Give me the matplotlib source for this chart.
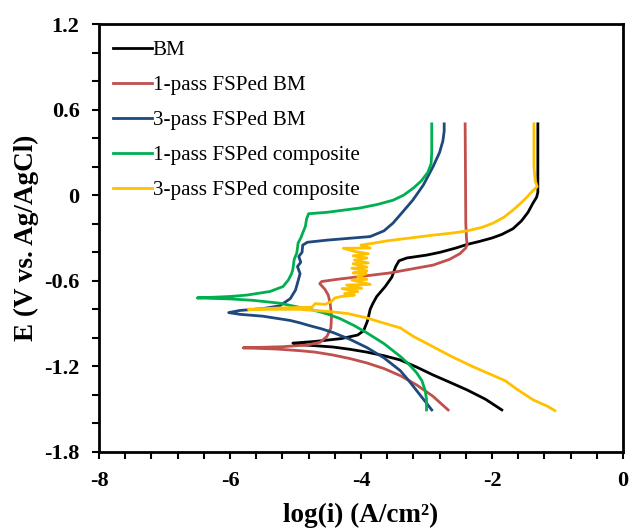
import numpy as np
import matplotlib
matplotlib.use('agg')
import matplotlib.pyplot as plt
from matplotlib.ticker import MultipleLocator

# Tafel curves: log(i) in A/cm2, E in V vs. Ag/AgCl
# BM
bm_logi = [-1.85, -2.10, -2.38, -2.65, -2.90, -3.15, -3.40, -3.65, -3.91,
           -4.17, -4.43, -4.70, -4.93, -5.04,
           -4.70, -4.30, -4.05, -3.96, -3.90, -3.86, -3.82, -3.76, -3.63,
           -3.53, -3.47, -3.42, -3.30, -3.00, -2.79, -2.55, -2.38, -2.20,
           -2.00, -1.85, -1.68, -1.55, -1.45, -1.38, -1.32, -1.30, -1.30]
bm_e = [-1.505, -1.43, -1.365, -1.31, -1.26, -1.205, -1.155, -1.125, -1.10,
        -1.08, -1.064, -1.055, -1.048, -1.037,
        -1.025, -1.005, -0.98, -0.95, -0.88, -0.80, -0.76, -0.71, -0.64,
        -0.575, -0.50, -0.46, -0.44, -0.42, -0.40, -0.37, -0.345, -0.325,
        -0.30, -0.275, -0.235, -0.18, -0.12, -0.06, -0.015, 0.02, 0.5]

# 1-pass FSPed BM
p1_logi = [-2.67, -2.78, -2.90, -3.15, -3.40, -3.65, -3.91, -4.17, -4.43,
           -4.70, -4.93, -5.30, -5.80,
           -5.20, -4.82, -4.62, -4.52, -4.46, -4.45, -4.47, -4.50, -4.55,
           -4.63, -4.60, -4.37, -3.56, -2.90, -2.65, -2.49, -2.40, -2.38,
           -2.39, -2.40, -2.41]
p1_e = [-1.505, -1.46, -1.41, -1.33, -1.265, -1.215, -1.176, -1.145, -1.12,
        -1.10, -1.09, -1.078, -1.07,
        -1.062, -1.05, -1.03, -0.99, -0.93, -0.85, -0.76, -0.70, -0.66,
        -0.62, -0.605, -0.59, -0.545, -0.49, -0.45, -0.41, -0.37, -0.345,
        -0.30, -0.20, 0.5]

# 3-pass FSPed BM
p3_logi = [-2.92, -3.03, -3.15, -3.27, -3.40, -3.65, -3.91, -4.17, -4.43,
           -4.60, -4.78, -4.93, -5.08, -5.50, -5.85, -6.02,
           -5.85, -5.50, -5.24, -5.08, -5.00, -4.96, -4.93, -4.97, -4.92,
           -4.95, -4.90, -4.89, -4.82, -4.52, -3.86, -3.65, -3.51, -3.35,
           -3.21, -3.05, -2.90, -2.80, -2.75, -2.73, -2.73]
p3_e = [-1.505, -1.44, -1.37, -1.30, -1.23, -1.14, -1.068, -1.01, -0.962,
        -0.937, -0.915, -0.895, -0.878, -0.848, -0.835, -0.823,
        -0.808, -0.795, -0.775, -0.725, -0.665, -0.60, -0.55, -0.50, -0.47,
        -0.43, -0.40, -0.35, -0.33, -0.315, -0.29, -0.25, -0.195, -0.11,
        -0.035, 0.07, 0.20, 0.30, 0.38, 0.45, 0.5]

# 1-pass FSPed composite
c1_logi = [-3.00, -3.00, -3.02, -3.07, -3.15, -3.27, -3.40, -3.65, -3.91,
           -4.10, -4.32, -4.53, -4.73, -4.93, -5.24, -5.65, -6.00, -6.50,
           -6.00, -5.74, -5.39, -5.19, -5.11, -5.06, -5.04, -5.02, -4.98,
           -4.96, -4.92, -4.89, -4.85, -4.83, -4.80, -4.52, -4.02, -3.75,
           -3.51, -3.35, -3.20, -3.08, -2.98, -2.93, -2.92, -2.92]
c1_e = [-1.505, -1.43, -1.37, -1.30, -1.245, -1.185, -1.13, -1.04, -0.965,
        -0.915, -0.865, -0.83, -0.805, -0.787, -0.757, -0.737, -0.727, -0.72,
        -0.71, -0.70, -0.675, -0.64, -0.595, -0.55, -0.52, -0.45, -0.405,
        -0.335, -0.30, -0.265, -0.22, -0.165, -0.13, -0.12, -0.09, -0.065,
        -0.035, 0.0, 0.05, 0.10, 0.16, 0.22, 0.30, 0.5]

# 3-pass FSPed composite
c3_logi = [-1.04, -1.15, -1.37, -1.62, -1.80, -2.05, -2.30, -2.62, -2.95,
           -3.20, -3.40, -3.70, -3.91, -4.20, -4.43, -4.93, -5.72,
           -5.20, -4.75, -4.70, -4.55, -4.45, -4.40, -4.30, -4.10, -4.25,
           -4.05, -4.29, -3.99, -4.22, -3.86, -4.14, -3.91, -4.05, -3.92,
           -4.12, -3.91, -4.14, -3.91, -4.12, -3.89, -4.10, -3.91, -4.12,
           -3.89, -4.09, -4.27, -3.86, -4.00, -3.82, -3.60, -3.25, -2.90,
           -2.60, -2.38, -2.15, -1.98, -1.82, -1.68, -1.56, -1.47, -1.38,
           -1.31, -1.34, -1.36, -1.36]
c3_e = [-1.51, -1.48, -1.435, -1.36, -1.30, -1.25, -1.20, -1.13, -1.05,
        -0.99, -0.93, -0.89, -0.86, -0.83, -0.818, -0.80, -0.80,
        -0.79, -0.785, -0.76, -0.765, -0.745, -0.72, -0.71, -0.70, -0.69,
        -0.675, -0.655, -0.652, -0.63, -0.625, -0.595, -0.59, -0.57, -0.55,
        -0.545, -0.53, -0.512, -0.505, -0.48, -0.475, -0.455, -0.44, -0.425,
        -0.41, -0.395, -0.372, -0.37, -0.35, -0.337, -0.32, -0.30, -0.28,
        -0.265, -0.25, -0.225, -0.195, -0.155, -0.105, -0.055, -0.015, 0.03,
        0.06, 0.10, 0.2, 0.5]

series = [
    ('BM', bm_logi, bm_e, '#000000'),
    ('1-pass FSPed BM', p1_logi, p1_e, '#C0504D'),
    ('3-pass FSPed BM', p3_logi, p3_e, '#1F497D'),
    ('1-pass FSPed composite', c1_logi, c1_e, '#00B050'),
    ('3-pass FSPed composite', c3_logi, c3_e, '#FFC000'),
]

plt.rcParams['font.family'] = ['Liberation Serif', 'DejaVu Serif']

fig = plt.figure(figsize=(6.3, 5.3), dpi=100)
ax = fig.add_axes([99 / 630, 1 - 452 / 530, 524 / 630, 428 / 530])

for name, x, y, col in series:
    ax.plot(x, y, color=col, lw=2.0, label=name, solid_joinstyle='round')

ax.set_xlim(-8, 0)
ax.set_ylim(-1.8, 1.2)
ax.xaxis.set_major_locator(MultipleLocator(2))
ax.xaxis.set_minor_locator(MultipleLocator(0.4))
ax.yaxis.set_major_locator(MultipleLocator(0.6))
ax.yaxis.set_minor_locator(MultipleLocator(0.2))
ax.tick_params(which='both', direction='out', length=5, width=1.5, pad=9,
               labelsize=16)
ax.xaxis.set_major_formatter(plt.FuncFormatter(lambda v, p: '%g' % v))
ax.yaxis.set_major_formatter(plt.FuncFormatter(lambda v, p: '%g' % v))
for lab in ax.get_xticklabels() + ax.get_yticklabels():
    lab.set_fontweight('bold')
for sp in ax.spines.values():
    sp.set_linewidth(2)

ax.set_xlabel('log(i) (A/cm²)', fontsize=19.5, fontweight='bold', labelpad=8)
ax.set_ylabel('E (V vs. Ag/AgCl)', fontsize=19.5, fontweight='bold',
              labelpad=4)

ax.legend(loc='upper left', bbox_to_anchor=(0.026, 0.962), frameon=False,
          fontsize=15.2, handlelength=1.85, handletextpad=0.05,
          labelspacing=0.72, borderaxespad=0, borderpad=0)

fig.savefig('out.png', dpi=100)
